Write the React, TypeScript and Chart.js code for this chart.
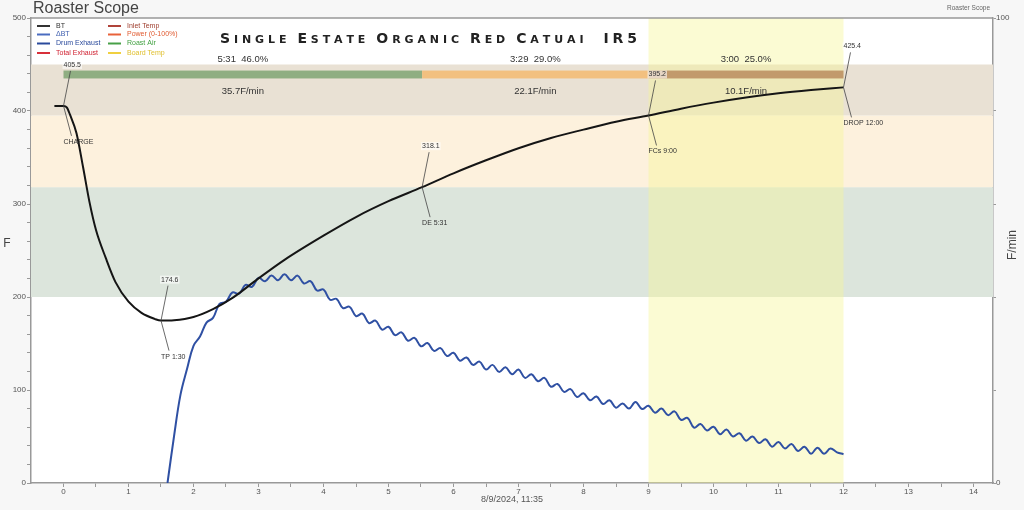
import React, { useEffect, useRef } from "react";
import { Chart, registerables } from "chart.js";

Chart.register(...registerables);

// ---------- DATA ----------
const btTime = [-0.14, 0, 0.05, 0.1, 0.2, 0.3, 0.4, 0.5, 0.65, 0.8, 1.0, 1.2, 1.4, 1.5, 1.7, 2.0, 2.3, 2.6, 3.0, 3.4, 4.0, 4.5, 5.0, 5.517, 6.0, 6.5, 7.0, 7.5, 8.0, 8.5, 9.0, 9.5, 10.0, 10.5, 11.0, 11.5, 12.0];
const btTemp = [405.5, 405.5, 404, 396, 376, 340, 302, 272, 242, 216, 195, 183, 176.5, 174.6, 175, 178.5, 187, 199, 220, 240, 266, 286, 303, 318.1, 333, 347, 360, 371, 380, 388.5, 395.2, 402.5, 409, 414.5, 419, 422.5, 425.4];

const rorTime = [
  1.6, 1.7, 1.8, 1.9, 2.0, 2.1, 2.2, 2.3, 2.4, 2.5, 2.6, 2.7, 2.8, 2.9, 3.0, 3.1, 3.2, 3.3, 3.4, 3.5,
  3.6, 3.7, 3.8, 3.9, 4.0, 4.1, 4.2, 4.3, 4.4, 4.5, 4.6, 4.7, 4.8, 4.9, 5.0, 5.1, 5.2, 5.3, 5.4, 5.5,
  5.6, 5.7, 5.8, 5.9, 6.0, 6.1, 6.2, 6.3, 6.4, 6.5, 6.6, 6.7, 6.8, 6.9, 7.0, 7.1, 7.2, 7.3, 7.4, 7.5,
  7.6, 7.7, 7.8, 7.9, 8.0, 8.1, 8.2, 8.3, 8.4, 8.5, 8.6, 8.7, 8.8, 8.9, 9.0, 9.1, 9.2, 9.3, 9.4, 9.5,
  9.6, 9.7, 9.8, 9.9, 10.0, 10.1, 10.2, 10.3, 10.4, 10.5, 10.6, 10.7, 10.8, 10.9, 11.0, 11.1, 11.2, 11.3, 11.4, 11.5,
  11.6, 11.7, 11.8, 11.9, 12.0,
];
const rorValue = [
  0, 10, 19, 24.5, 29.5, 31.5, 34.5, 35.5, 38.5, 39, 41, 40.7, 42.6, 42.2, 44.1, 43.4, 44.6, 43.6, 44.9, 43.6,
  44.6, 42.9, 43.4, 41.4, 41.6, 39.4, 39.6, 37.6, 37.9, 35.9, 36.4, 34.4, 34.9, 33.0, 33.6, 31.8, 32.4, 30.6, 31.2, 29.4,
  30.1, 28.4, 29.0, 27.3, 28.0, 26.3, 27.0, 25.4, 26.1, 24.4, 25.4, 23.9, 24.9, 23.4, 24.4, 22.6, 23.4, 21.9, 22.6, 20.7,
  21.3, 19.6, 20.2, 18.5, 19.3, 17.8, 18.6, 17.0, 17.8, 16.2, 17.1, 16.0, 17.4, 15.9, 16.6, 15.1, 16.0, 14.6, 15.4, 13.6,
  14.0, 11.9, 12.7, 11.3, 12.1, 10.5, 11.5, 10.0, 10.7, 9.1, 10.0, 8.6, 9.4, 7.8, 8.8, 7.4, 8.4, 6.9, 7.8, 6.3,
  7.6, 6.3, 7.4, 6.6, 6.2,
];

const xTickValues = [0, 0.5, 1, 1.5, 2, 2.5, 3, 3.5, 4, 4.5, 5, 5.5, 6, 6.5, 7, 7.5, 8, 8.5, 9, 9.5, 10, 10.5, 11, 11.5, 12, 12.5, 13, 13.5, 14];
const yTickValues = [0, 20, 40, 60, 80, 100, 120, 140, 160, 180, 200, 220, 240, 260, 280, 300, 320, 340, 360, 380, 400, 420, 440, 460, 480, 500];
const y1TickValues = [0, 20, 40, 60, 80, 100];

const bandLow = [200, 318.1, 395.2];
const bandHigh = [318.1, 395.2, 450];
const bandColors = ["#dce5dc", "#fdf1dd", "#e9e1d4"];
const highlightTime = [9, 12];

const phaseStart = [0, 5.517, 9];
const phaseEnd = [5.517, 9, 12];
const phaseColors = ["#8fae82", "#f2c07f", "#c29a6c"];
const phaseTimeLabels = ["5:31  46.0%", "3:29  29.0%", "3:00  25.0%"];
const phaseRateLabels = ["35.7F/min", "22.1F/min", "10.1F/min"];
const phaseBarTemp = [435, 443.5];
const phaseTimeLabelTemp = 456;
const phaseRateLabelTemp = 421.5;

const eventTime = [0, 1.5, 5.517, 9, 12];
const eventTemp = [405.5, 174.6, 318.1, 395.2, 425.4];
const eventNames = ["CHARGE", "TP 1:30", "DE 5:31", "FCs 9:00", "DROP 12:00"];
const eventValues = ["405.5", "174.6", "318.1", "395.2", "425.4"];

const legendLabels = ["BT", "ΔBT", "Drum Exhaust", "Total Exhaust", "Inlet Temp", "Power (0-100%)", "Roast Air", "Board Temp"];
const legendLineColors = ["#333333", "#4a6cc0", "#2a4a9c", "#d8303a", "#b0443a", "#e8623a", "#48a048", "#f0d040"];
const legendTextColors = ["#333333", "#4060b0", "#2a4a9c", "#d02030", "#a04030", "#e05a30", "#40a040", "#e0c030"];

const titleWords = ["Single", "Estate", "Organic", "Red", "Catuai", "IR5"];

const SANS = '"Liberation Sans", Arial, sans-serif';

function drawTitle(ctx: CanvasRenderingContext2D) {
  const bigFont = 'bold 14px "DejaVu Sans"';
  const smallFont = 'bold 11px "DejaVu Sans"';
  const x0 = 220, x1 = 637, baseline = 43;
  const wordGap = 11, lastGap = 20;
  type G = { ch: string; font: string; w: number };
  const words: G[][] = titleWords.map((w) =>
    w.split("").map((c, i) => {
      const big = i === 0 || c === c.toUpperCase();
      const font = big ? bigFont : smallFont;
      ctx.font = font;
      const ch = c.toUpperCase();
      return { ch, font, w: ctx.measureText(ch).width };
    })
  );
  let glyphW = 0;
  let gaps = 0;
  words.forEach((w) => {
    w.forEach((g) => (glyphW += g.w));
    gaps += w.length - 1;
  });
  const fixedGaps = wordGap * (words.length - 2) + lastGap;
  const s = (x1 - x0 - glyphW - fixedGaps) / gaps;
  let x = x0;
  ctx.fillStyle = "#222";
  ctx.textBaseline = "alphabetic";
  ctx.textAlign = "left";
  words.forEach((w, wi) => {
    w.forEach((g, gi) => {
      ctx.font = g.font;
      ctx.fillText(g.ch, x, baseline);
      x += g.w + (gi < w.length - 1 ? s : 0);
    });
    if (wi < words.length - 1) x += wi === words.length - 2 ? lastGap : wordGap;
  });
}

const roastPlugin = {
  id: "roast",
  beforeDraw(chart: any) {
    const { ctx, chartArea: a } = chart;
    ctx.save();
    ctx.fillStyle = "#f7f7f7";
    ctx.fillRect(0, 0, chart.width, chart.height);
    ctx.fillStyle = "#ffffff";
    ctx.fillRect(a.left, a.top, a.right - a.left, a.bottom - a.top);
    ctx.restore();
  },
  beforeDatasetsDraw(chart: any) {
    const { ctx, chartArea: a, scales } = chart;
    const xs = scales.x, ys = scales.y;
    ctx.save();
    // horizontal bands
    bandLow.forEach((lo, i) => {
      const yTop = ys.getPixelForValue(bandHigh[i]);
      const yBot = ys.getPixelForValue(lo);
      ctx.fillStyle = bandColors[i];
      ctx.fillRect(a.left, yTop, a.right - a.left, yBot - yTop);
    });
    // vertical highlight
    const hx0 = xs.getPixelForValue(highlightTime[0]);
    const hx1 = xs.getPixelForValue(highlightTime[1]);
    ctx.fillStyle = "rgba(245,245,150,0.42)";
    ctx.fillRect(hx0, a.top, hx1 - hx0, a.bottom - a.top);
    // phase bars
    const by0 = ys.getPixelForValue(phaseBarTemp[1]);
    const by1 = ys.getPixelForValue(phaseBarTemp[0]);
    phaseStart.forEach((st, i) => {
      const px0 = xs.getPixelForValue(st);
      const px1 = xs.getPixelForValue(phaseEnd[i]);
      ctx.fillStyle = phaseColors[i];
      ctx.fillRect(px0, by0, px1 - px0, by1 - by0);
      const cx = (px0 + px1) / 2;
      ctx.fillStyle = "#333";
      ctx.font = `9.5px ${SANS}`;
      ctx.textAlign = "center";
      ctx.textBaseline = "middle";
      ctx.fillText(phaseTimeLabels[i], cx, ys.getPixelForValue(phaseTimeLabelTemp));
      ctx.fillText(phaseRateLabels[i], cx, ys.getPixelForValue(phaseRateLabelTemp));
    });
    ctx.restore();
  },
  afterDatasetsDraw(chart: any) {
    const { ctx, chartArea: a, scales } = chart;
    const xs = scales.x, ys = scales.y;
    ctx.save();
    // event annotations
    ctx.font = `7px ${SANS}`;
    ctx.textBaseline = "middle";
    ctx.textAlign = "left";
    eventTime.forEach((t, i) => {
      const px = xs.getPixelForValue(t);
      const py = ys.getPixelForValue(eventTemp[i]);
      ctx.strokeStyle = "#444";
      ctx.lineWidth = 0.8;
      ctx.beginPath();
      ctx.moveTo(px + 7, py - 35);
      ctx.lineTo(px, py);
      ctx.lineTo(px + 8, py + 30);
      ctx.stroke();
      const vw = ctx.measureText(eventValues[i]).width;
      ctx.fillStyle = "rgba(255,255,255,0.6)";
      ctx.fillRect(px - 1, py - 45, vw + 2, 8);
      ctx.fillStyle = "#333";
      ctx.fillText(eventValues[i], px, py - 41);
      ctx.fillText(eventNames[i], px, py + 36);
    });
    // legend
    ctx.font = `7px ${SANS}`;
    const rows = [26, 34.5, 43.5, 53];
    legendLabels.forEach((lab, i) => {
      const col = Math.floor(i / 4);
      const row = i % 4;
      const lx = col === 0 ? 37 : 108;
      const y = rows[row];
      ctx.strokeStyle = legendLineColors[i];
      ctx.lineWidth = 2;
      ctx.beginPath();
      ctx.moveTo(lx, y);
      ctx.lineTo(lx + 13, y);
      ctx.stroke();
      ctx.fillStyle = legendTextColors[i];
      ctx.fillText(lab, lx + 19, y);
    });
    // frame top line
    ctx.strokeStyle = "#999";
    ctx.lineWidth = 1.5;
    ctx.beginPath();
    ctx.moveTo(a.left, a.top);
    ctx.lineTo(a.right, a.top);
    ctx.stroke();
    // titles
    ctx.fillStyle = "#444";
    ctx.font = `16px ${SANS}`;
    ctx.textAlign = "left";
    ctx.textBaseline = "middle";
    ctx.fillText("Roaster Scope", 33, 9);
    ctx.fillStyle = "#666";
    ctx.font = `6.5px ${SANS}`;
    ctx.fillText("Roaster Scope", 947, 8);
    drawTitle(ctx);
    // axis titles
    ctx.fillStyle = "#444";
    ctx.font = `12px ${SANS}`;
    ctx.textAlign = "center";
    ctx.textBaseline = "middle";
    ctx.fillText("F", 7, 244);
    ctx.save();
    ctx.translate(1013, 245);
    ctx.rotate(-Math.PI / 2);
    ctx.fillText("F/min", 0, 0);
    ctx.restore();
    ctx.fillStyle = "#555";
    ctx.font = `9px ${SANS}`;
    ctx.fillText("8/9/2024, 11:35", (a.left + a.right) / 2, 500);
    ctx.restore();
  },
};

export default function App() {
  const ref = useRef<HTMLCanvasElement>(null);
  useEffect(() => {
    if (!ref.current) return;
    const tickFont = { family: SANS, size: 8 };
    const chart = new Chart(ref.current, {
      type: "line",
      data: {
        datasets: [
          {
            label: "BT",
            data: btTime.map((t, i) => ({ x: t, y: btTemp[i] })),
            borderColor: "#151515",
            borderWidth: 2,
            pointRadius: 0,
            cubicInterpolationMode: "monotone",
            yAxisID: "y",
          },
          {
            label: "ΔBT",
            data: rorTime.map((t, i) => ({ x: t, y: rorValue[i] })),
            borderColor: "#2f50a3",
            borderWidth: 2,
            pointRadius: 0,
            tension: 0.4,
            yAxisID: "y1",
          },
        ],
      },
      options: {
        responsive: false,
        maintainAspectRatio: false,
        animation: false,
        devicePixelRatio: 1,
        layout: { padding: { top: 18, left: 0, right: 0, bottom: 0 } },
        plugins: { legend: { display: false }, tooltip: { enabled: false }, title: { display: false } },
        scales: {
          x: {
            type: "linear",
            min: -0.5,
            max: 14.3,
            afterFit: (s: any) => { s.height = 27; },
            afterBuildTicks: (s: any) => { s.ticks = xTickValues.map((v) => ({ value: v })); },
            ticks: {
              autoSkip: false,
              maxRotation: 0,
              padding: 0,
              color: "#555",
              font: tickFont,
              callback: (v: any) => (Number.isInteger(v) ? String(v) : ""),
            },
            grid: { drawOnChartArea: false, tickLength: 4, color: "#999" },
            border: { color: "#999", width: 1.5 },
          },
          y: {
            type: "linear",
            position: "left",
            min: 0,
            max: 500,
            afterFit: (s: any) => { s.width = 31; },
            afterBuildTicks: (s: any) => { s.ticks = yTickValues.map((v) => ({ value: v })); },
            ticks: {
              autoSkip: false,
              padding: 1,
              color: "#555",
              font: tickFont,
              callback: (v: any) => (v % 100 === 0 ? String(v) : ""),
            },
            grid: { drawOnChartArea: false, tickLength: 4, color: "#999" },
            border: { color: "#999", width: 1.5 },
          },
          y1: {
            type: "linear",
            position: "right",
            min: 0,
            max: 100,
            afterFit: (s: any) => { s.width = 31; },
            afterBuildTicks: (s: any) => { s.ticks = y1TickValues.map((v) => ({ value: v })); },
            ticks: {
              autoSkip: false,
              padding: 0,
              color: "#555",
              font: tickFont,
              callback: (v: any) => (v === 0 || v === 100 ? String(v) : ""),
            },
            grid: { drawOnChartArea: false, tickLength: 3, color: "#999" },
            border: { color: "#999", width: 1.5 },
          },
        },
      },
      plugins: [roastPlugin],
    } as any);
    return () => chart.destroy();
  }, []);
  return (
    <div style={{ position: "fixed", left: 0, top: 0, width: 1024, height: 510 }}>
      <canvas ref={ref} width={1024} height={510} style={{ display: "block", width: 1024, height: 510 }} />
    </div>
  );
}
